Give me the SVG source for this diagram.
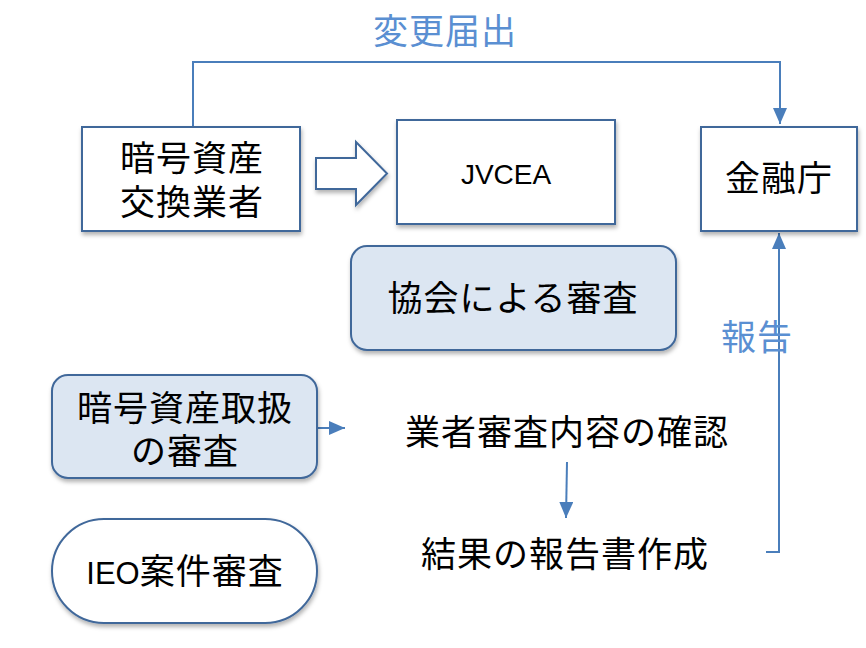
<svg xmlns="http://www.w3.org/2000/svg" width="866" height="648" viewBox="0 0 866 648">
<style>
.box{fill:#fff;stroke:#41689a;stroke-width:2}
.rbox{fill:#dce6f2;stroke:#41689a;stroke-width:2}
.t{font-family:"Noto Sans CJK JP","Noto Sans",sans-serif;font-size:35px;letter-spacing:1px;fill:#000;text-anchor:middle}
.tb{font-family:"Noto Sans CJK JP","Noto Sans",sans-serif;font-size:35px;letter-spacing:1px;fill:#5a8fd2;text-anchor:middle}
.lat{font-family:"Liberation Sans","Noto Sans",sans-serif;letter-spacing:0}
.ln{fill:none;stroke:#4a7ebb;stroke-width:2}
</style>
<defs>
<filter id="sh" x="-10%" y="-10%" width="130%" height="140%">
<feDropShadow dx="1" dy="3" stdDeviation="2" flood-color="#000" flood-opacity="0.3"/>
</filter>
<marker id="ahl" markerWidth="16" markerHeight="14" refX="16" refY="7" orient="auto" markerUnits="userSpaceOnUse" viewBox="0 0 16 14">
<path d="M0,0 L16,7 L0,14 z" fill="#4a7ebb"/>
</marker>
</defs>
<g id="connectors">
<polyline class="ln" points="193,127 193,62 780,62 780,124" marker-end="url(#ahl)"/>
<polyline class="ln" points="766,552 779,552 779,233" marker-end="url(#ahl)"/>
<line class="ln" x1="317" y1="428" x2="345" y2="428" marker-end="url(#ahl)"/>
<line class="ln" x1="567" y1="462" x2="566" y2="518" marker-end="url(#ahl)"/>
<path d="M316,158 L356,158 L356,142 L387,173.5 L356,205 L356,189 L316,189 z" fill="#fff" stroke="#41689a" stroke-width="2" filter="url(#sh)"/>
<text class="tb" x="445" y="44">変更届出</text>
<text class="tb" x="757" y="350">報告</text>
</g>
<g id="exchanger">
<rect class="box" x="82" y="127" width="218" height="104" filter="url(#sh)"/>
<text class="t" x="192" y="171">暗号資産<tspan x="192" dy="44">交換業者</tspan></text>
</g>
<g id="jvcea">
<rect class="box" x="397" y="120" width="218" height="104" filter="url(#sh)"/>
<text class="t lat" x="506" y="184" style="font-size:28px">JVCEA</text>
</g>
<g id="fsa">
<rect class="box" x="701" y="127" width="156" height="104" filter="url(#sh)"/>
<text class="t" x="779" y="191">金融庁</text>
</g>
<g id="assoc-review">
<rect class="rbox" x="351" y="246" width="325" height="104" rx="16" filter="url(#sh)"/>
<text class="t" x="513" y="311">協会による審査</text>
</g>
<g id="asset-review">
<rect class="rbox" x="52" y="375" width="265" height="103" rx="16" filter="url(#sh)"/>
<text class="t" x="185" y="421">暗号資産取扱<tspan x="185" dy="43">の審査</tspan></text>
</g>
<g id="ieo-review">
<rect class="box" x="52" y="519" width="265" height="104" rx="52" filter="url(#sh)"/>
<text class="t" x="185" y="584"><tspan class="lat" style="font-size:31px">IEO</tspan>案件審査</text>
</g>
<g id="confirm">
<text class="t" x="567" y="445">業者審査内容の確認</text>
</g>
<g id="report">
<text class="t" x="565" y="567">結果の報告書作成</text>
</g>
</svg>
